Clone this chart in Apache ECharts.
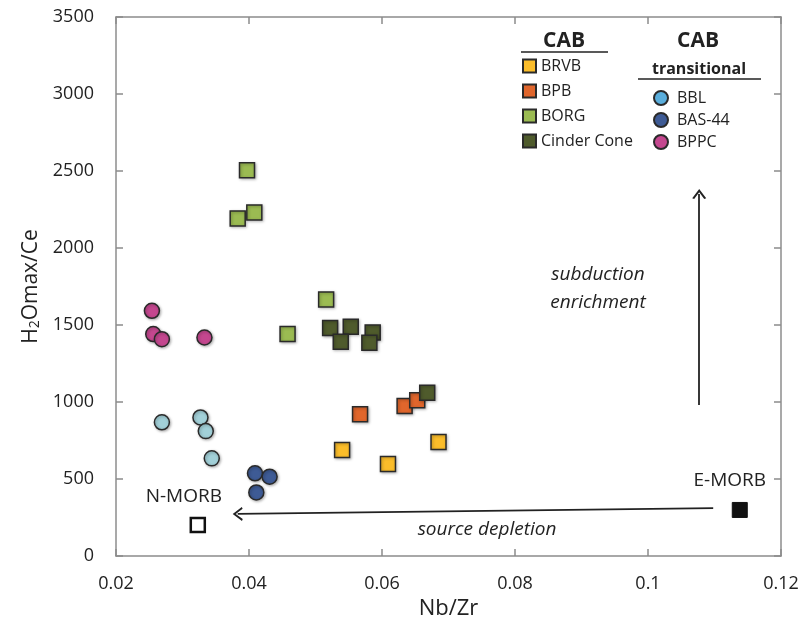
<!DOCTYPE html>
<html>
<head>
<meta charset="utf-8">
<script src="https://cdn.jsdelivr.net/npm/echarts@6/dist/echarts.min.js"></script>
<style>
  html, body { margin: 0; padding: 0; background: #fff; }
  #main { width: 803px; height: 630px; }
</style>
</head>
<body>
<div id="main"></div>
<script>
// data: [Nb/Zr, H2Omax/Ce]
var brvb = [[0.0540, 688], [0.0609, 597], [0.0685, 740]];
var bpb = [[0.0567, 920], [0.0634, 974], [0.0653, 1011]];
var borg = [[0.0397, 2505], [0.0383, 2192], [0.0408, 2231], [0.0516, 1666], [0.0458, 1441]];
var cinderCone = [[0.0522, 1480], [0.0553, 1488], [0.0538, 1391], [0.0586, 1452], [0.0581, 1384], [0.0668, 1060]];
var bbl = [[0.0269, 868], [0.0327, 900], [0.0335, 811], [0.0344, 634]];
var bas44 = [[0.0409, 537], [0.0431, 515], [0.0411, 413]];
var bppc = [[0.0254, 1592], [0.0256, 1441], [0.0269, 1408], [0.0333, 1419]];
var nMorb = [[0.0323, 201]];
var eMorb = [[0.1138, 299]];
// arrows (from, to)
var arrowUp = [[0.1077, 980], [0.1077, 2350]];
var arrowLeft = [[0.1098, 311], [0.0383, 273]];

var FONT = 'Open Sans';
var chevron = 'path://M5,0 L10,9 L8.6,9.8 L5,3 L1.4,9.8 L0,9 Z';

var myChart = echarts.init(document.getElementById('main'));

function pts(name, data, symbol, color) {
    return {
        name: name,
        type: 'scatter',
        data: data,
        symbol: symbol,
        symbolSize: 15,
        itemStyle: {
            color: color,
            opacity: 1,
            borderColor: '#2a2a2a',
            borderWidth: 1.5,
            shadowBlur: 3,
            shadowOffsetX: 1,
            shadowOffsetY: 1,
            shadowColor: 'rgba(0,0,0,0.3)'
        }
    };
}

var axisCommon = {
    type: 'value',
    axisLine: { show: true, onZero: false, lineStyle: { color: '#8c8c8c', width: 1.5 } },
    axisTick: { show: true, inside: true, length: 7, lineStyle: { color: '#8c8c8c', width: 1.5 } },
    splitLine: { show: false }
};

myChart.setOption({
    animation: false,
    textStyle: { fontFamily: FONT },
    grid: { left: 116, right: 22, top: 17, bottom: 74 },
    legend: [{
        orient: 'vertical',
        left: 522,
        top: 58,
        padding: 0,
        itemGap: 9,
        itemWidth: 13,
        itemHeight: 13,
        icon: 'rect',
        textStyle: { fontFamily: FONT, fontSize: 16, color: '#222', lineHeight: 16 },
        data: ['BRVB', 'BPB', 'BORG', 'Cinder Cone']
    }, {
        orient: 'vertical',
        left: 653,
        top: 90,
        padding: 0,
        itemGap: 6,
        itemWidth: 22,
        itemHeight: 14,
        icon: 'circle',
        textStyle: { fontFamily: FONT, fontSize: 16, color: '#222', lineHeight: 16 },
        data: [{ name: 'BBL', itemStyle: { color: '#5aaedc' } }, 'BAS-44', 'BPPC']
    }],
    xAxis: [Object.assign({}, axisCommon, {
        position: 'bottom',
        min: 0.02, max: 0.12, interval: 0.02,
        axisLabel: { margin: 19, fontSize: 18, color: '#222', fontFamily: FONT },
        name: 'Nb/Zr',
        nameLocation: 'middle',
        nameGap: 40,
        nameTextStyle: { fontSize: 22, color: '#222', fontFamily: FONT }
    }), Object.assign({}, axisCommon, {
        position: 'top',
        min: 0.02, max: 0.12, interval: 0.02,
        axisLabel: { show: false }
    })],
    yAxis: [Object.assign({}, axisCommon, {
        position: 'left',
        min: 0, max: 3500, interval: 500,
        axisLabel: { margin: 22, fontSize: 18, color: '#222', fontFamily: FONT, formatter: function (v) { return String(v); } },
        name: 'H{s|2}Omax/Ce',
        nameLocation: 'middle',
        nameGap: 74,
        nameTextStyle: {
            fontSize: 21, color: '#222', fontFamily: FONT,
            rich: { s: { fontSize: 14, color: '#222', fontFamily: FONT, verticalAlign: 'bottom', padding: [8, 0, 0, 0] } }
        }
    }), Object.assign({}, axisCommon, {
        position: 'right',
        min: 0, max: 3500, interval: 500,
        axisLabel: { show: false }
    })],
    graphic: [
        { type: 'text', x: 564, y: 41, style: { text: 'CAB', font: 'bold 21px "Open Sans"', fill: '#222', textAlign: 'center', textVerticalAlign: 'middle' } },
        { type: 'line', shape: { x1: 521, y1: 52, x2: 608, y2: 52 }, style: { stroke: '#222', lineWidth: 1.5 } },
        { type: 'text', x: 698, y: 41, style: { text: 'CAB', font: 'bold 21px "Open Sans"', fill: '#222', textAlign: 'center', textVerticalAlign: 'middle' } },
        { type: 'text', x: 699, y: 69, style: { text: 'transitional', font: 'bold 16px "Open Sans"', fill: '#222', textAlign: 'center', textVerticalAlign: 'middle' } },
        { type: 'line', shape: { x1: 638, y1: 79, x2: 761, y2: 79 }, style: { stroke: '#222', lineWidth: 1.5 } },
        { type: 'text', x: 598, y: 275, style: { text: 'subduction', font: 'italic 19px "Open Sans"', fill: '#222', textAlign: 'center', textVerticalAlign: 'middle' } },
        { type: 'text', x: 598, y: 303, style: { text: 'enrichment', font: 'italic 19px "Open Sans"', fill: '#222', textAlign: 'center', textVerticalAlign: 'middle' } },
        { type: 'text', x: 487, y: 530, style: { text: 'source depletion', font: 'italic 19px "Open Sans"', fill: '#222', textAlign: 'center', textVerticalAlign: 'middle' } }
    ],
    series: [
        pts('BRVB', brvb, 'rect', '#fbbd2a'),
        pts('BPB', bpb, 'rect', '#e0662c'),
        pts('BORG', borg, 'rect', '#9bbb52'),
        pts('Cinder Cone', cinderCone, 'rect', '#4f5b2c'),
        pts('BBL', bbl, 'circle', '#a2d0d8'),
        pts('BAS-44', bas44, 'circle', '#3e5b95'),
        pts('BPPC', bppc, 'circle', '#c4478f'),
        {
            name: 'N-MORB',
            type: 'scatter',
            data: nMorb,
            symbol: 'rect',
            symbolSize: 14,
            itemStyle: { color: '#fff', opacity: 1, borderColor: '#111', borderWidth: 2.5 },
            label: { show: true, position: 'top', offset: [-14, -6], formatter: 'N-MORB', fontSize: 19, color: '#222', fontFamily: FONT }
        },
        {
            name: 'E-MORB',
            type: 'scatter',
            data: eMorb,
            symbol: 'rect',
            symbolSize: 15,
            itemStyle: { color: '#111', opacity: 1, borderColor: '#111', borderWidth: 1 },
            label: { show: true, position: 'top', offset: [-10, -7], formatter: 'E-MORB', fontSize: 19, color: '#222', fontFamily: FONT }
        },
        {
            name: 'arrows',
            type: 'scatter',
            data: [],
            markLine: {
                silent: true,
                symbol: ['none', chevron],
                symbolSize: [14, 10],
                label: { show: false },
                lineStyle: { color: '#222', width: 1.8, type: 'solid' },
                data: [
                    [{ coord: arrowUp[0] }, { coord: arrowUp[1] }],
                    [{ coord: arrowLeft[0] }, { coord: arrowLeft[1] }]
                ]
            }
        }
    ]
});
</script>
</body>
</html>
